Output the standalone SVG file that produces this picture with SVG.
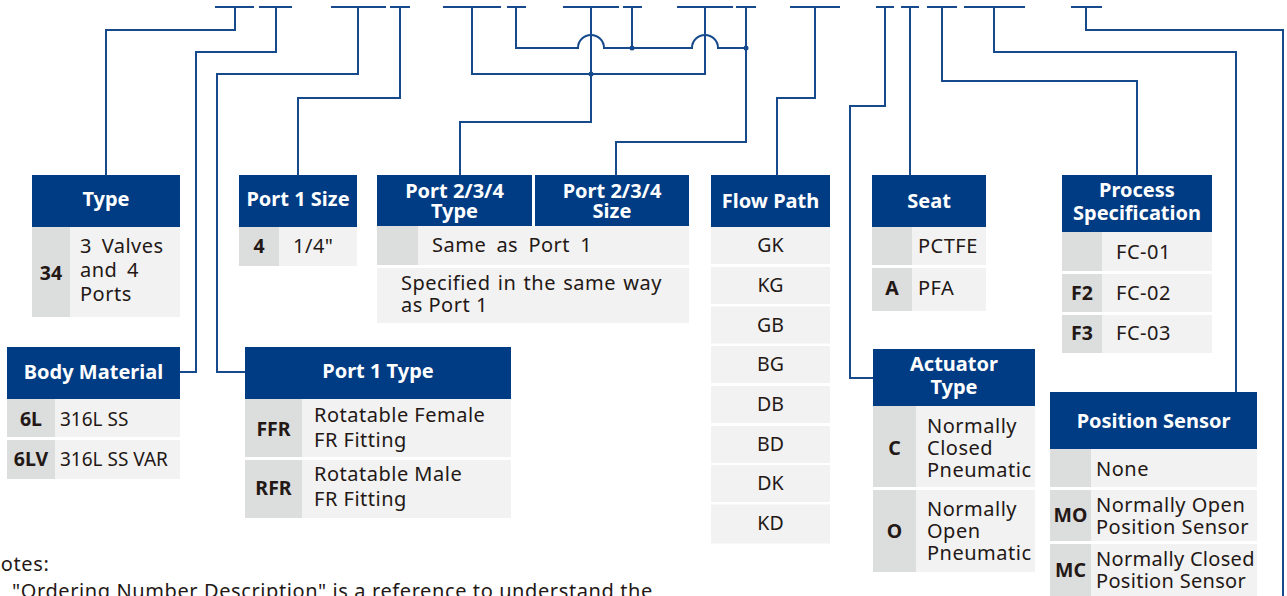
<svg xmlns="http://www.w3.org/2000/svg" width="1287" height="596" viewBox="0 0 1287 596">
<style>
text{font-family:"Noto Sans","Open Sans",sans-serif;}
.hd{fill:#003C84;}
.cd{fill:#DCDDDD;}
.ds{fill:#F2F2F2;}
.ht{fill:#fff;font-weight:bold;font-size:20px;text-anchor:middle;}
.ct{fill:#231815;font-weight:bold;font-size:19.5px;text-anchor:middle;}
.t{fill:#231815;font-size:20px;letter-spacing:0.5px;}
.tm{fill:#231815;font-size:19.5px;text-anchor:middle;}
.ln{fill:none;stroke:#164A8C;stroke-width:2;}
.dot{fill:#164A8C;}
</style>
<g id="connectors">
<path class="ln" d="M215,7H254M259,7H292M331,7H386M390,7H410M443,7H501M507,7H526M563,7H619M623,7H642M677,7H733M736,7H756M790,7H840M876,7H894M901,7H919M927,7H957M964,7H1025M1071,7H1102"/>
<path class="ln" d="M235,7V30H106V175"/>
<path class="ln" d="M276,7V52H196V372H180"/>
<path class="ln" d="M358,7V74H217V372H245"/>
<path class="ln" d="M400,7V98H298V175"/>
<path class="ln" d="M472,7V74H705V7M591,7V122H460V175"/>
<path class="ln" d="M516,7V48H578A13,13 0 0 1 604,48H692A13,13 0 0 1 718,48H746M632,7V48M746,7V142H616V175"/>
<path class="ln" d="M815,7V98H777V175"/>
<path class="ln" d="M885,7V106H850V378H873"/>
<path class="ln" d="M910,7V175"/>
<path class="ln" d="M942,7V81H1137V175"/>
<path class="ln" d="M994,7V52H1236V392"/>
<path class="ln" d="M1086,7V30H1283V596"/>
<circle class="dot" cx="591" cy="74" r="2.5"/>
<circle class="dot" cx="632" cy="48" r="2.5"/>
<circle class="dot" cx="746" cy="48" r="2.5"/>
</g>
<g id="type">
<rect class="hd" x="32" y="175" width="148" height="52"/>
<rect class="cd" x="32" y="227" width="38" height="90"/>
<rect class="ds" x="70" y="227" width="110" height="90"/>
<text class="ht" x="106" y="206">Type</text>
<text class="ct" x="51" y="280">34</text>
<text class="t" x="80" y="253" word-spacing="4">3 Valves</text>
<text class="t" x="80" y="277" word-spacing="4">and 4</text>
<text class="t" x="80" y="301">Ports</text>
</g>
<g id="port1-size">
<rect class="hd" x="239" y="175" width="118" height="52"/>
<rect class="cd" x="239" y="227" width="40" height="39"/>
<rect class="ds" x="279" y="227" width="78" height="39"/>
<text class="ht" x="298" y="206">Port 1 Size</text>
<text class="ct" x="259" y="253">4</text>
<text class="t" x="293" y="253">1/4"</text>
</g>
<g id="port234-type">
<rect class="hd" x="377" y="175" width="155" height="51"/>
<text class="ht" x="454.5" y="198">Port 2/3/4</text>
<text class="ht" x="454.5" y="218">Type</text>
<rect class="cd" x="377" y="226" width="41" height="39"/>
<rect class="ds" x="418" y="226" width="271" height="39"/>
<text class="t" x="432" y="252" word-spacing="4.5">Same as Port 1</text>
<rect class="ds" x="377" y="268" width="312" height="55"/>
<text class="t" x="401" y="290" word-spacing="1.6">Specified in the same way</text>
<text class="t" x="401" y="312">as Port 1</text>
</g>
<g id="port234-size">
<rect class="hd" x="535" y="175" width="154" height="51"/>
<text class="ht" x="612" y="198">Port 2/3/4</text>
<text class="ht" x="612" y="218">Size</text>
</g>
<g id="flow-path">
<rect class="hd" x="711" y="175" width="119" height="52"/>
<text class="ht" x="770.5" y="208">Flow Path</text>
<rect class="ds" x="711" y="227" width="119" height="37"/>
<rect class="ds" x="711" y="267" width="119" height="37"/>
<rect class="ds" x="711" y="306.5" width="119" height="37"/>
<rect class="ds" x="711" y="346" width="119" height="37"/>
<rect class="ds" x="711" y="386" width="119" height="37"/>
<rect class="ds" x="711" y="426" width="119" height="37"/>
<rect class="ds" x="711" y="465" width="119" height="37"/>
<rect class="ds" x="711" y="504.5" width="119" height="39"/>
<text class="tm" x="770.5" y="252">GK</text>
<text class="tm" x="770.5" y="292">KG</text>
<text class="tm" x="770.5" y="331.5">GB</text>
<text class="tm" x="770.5" y="371">BG</text>
<text class="tm" x="770.5" y="411">DB</text>
<text class="tm" x="770.5" y="451">BD</text>
<text class="tm" x="770.5" y="490">DK</text>
<text class="tm" x="770.5" y="530">KD</text>
</g>
<g id="seat">
<rect class="hd" x="872" y="175" width="114" height="52"/>
<text class="ht" x="929" y="208">Seat</text>
<rect class="cd" x="872" y="227" width="40" height="38"/>
<rect class="ds" x="912" y="227" width="74" height="38"/>
<rect class="cd" x="872" y="268" width="40" height="43"/>
<rect class="ds" x="912" y="268" width="74" height="43"/>
<text class="t" x="918" y="253">PCTFE</text>
<text class="ct" x="892" y="295">A</text>
<text class="t" x="918" y="295">PFA</text>
</g>
<g id="process-spec">
<rect class="hd" x="1062" y="175" width="150" height="57"/>
<text class="ht" x="1137" y="197">Process</text>
<text class="ht" x="1137" y="220">Specification</text>
<rect class="cd" x="1062" y="232" width="40" height="39"/>
<rect class="ds" x="1102" y="232" width="110" height="39"/>
<rect class="cd" x="1062" y="274" width="40" height="38"/>
<rect class="ds" x="1102" y="274" width="110" height="38"/>
<rect class="cd" x="1062" y="315" width="40" height="38"/>
<rect class="ds" x="1102" y="315" width="110" height="38"/>
<text class="t" x="1116" y="259">FC-01</text>
<text class="ct" x="1082" y="300">F2</text>
<text class="t" x="1116" y="300">FC-02</text>
<text class="ct" x="1082" y="340">F3</text>
<text class="t" x="1116" y="340">FC-03</text>
</g>
<g id="body-material">
<rect class="hd" x="7" y="347" width="173" height="52"/>
<text class="ht" x="93.5" y="379">Body Material</text>
<rect class="cd" x="7" y="399" width="48" height="38"/>
<rect class="ds" x="55" y="399" width="125" height="38"/>
<rect class="cd" x="7" y="440" width="48" height="39"/>
<rect class="ds" x="55" y="440" width="125" height="39"/>
<text class="ct" x="31" y="426">6L</text>
<text class="t" x="60" y="426" style="letter-spacing:0;font-size:19px">316L SS</text>
<text class="ct" x="31" y="466">6LV</text>
<text class="t" x="60" y="466" style="letter-spacing:0;font-size:19px">316L SS VAR</text>
</g>
<g id="port1-type">
<rect class="hd" x="245" y="347" width="266" height="52"/>
<text class="ht" x="378" y="378">Port 1 Type</text>
<rect class="cd" x="245" y="399" width="57" height="58"/>
<rect class="ds" x="302" y="399" width="209" height="58"/>
<rect class="cd" x="245" y="460" width="57" height="58"/>
<rect class="ds" x="302" y="460" width="209" height="58"/>
<text class="ct" x="273.5" y="436">FFR</text>
<text class="t" x="314" y="422">Rotatable Female</text>
<text class="t" x="314" y="447">FR Fitting</text>
<text class="ct" x="273.5" y="495">RFR</text>
<text class="t" x="314" y="481">Rotatable Male</text>
<text class="t" x="314" y="506">FR Fitting</text>
</g>
<g id="actuator-type">
<rect class="hd" x="873" y="349" width="162" height="57"/>
<text class="ht" x="954" y="371">Actuator</text>
<text class="ht" x="954" y="394">Type</text>
<rect class="cd" x="873" y="406" width="43" height="81"/>
<rect class="ds" x="916" y="406" width="119" height="81"/>
<rect class="cd" x="873" y="490" width="43" height="82"/>
<rect class="ds" x="916" y="490" width="119" height="82"/>
<text class="ct" x="894.5" y="455">C</text>
<text class="t" x="927" y="433">Normally</text>
<text class="t" x="927" y="455">Closed</text>
<text class="t" x="927" y="477">Pneumatic</text>
<text class="ct" x="894.5" y="538">O</text>
<text class="t" x="927" y="516">Normally</text>
<text class="t" x="927" y="538">Open</text>
<text class="t" x="927" y="560">Pneumatic</text>
</g>
<g id="position-sensor">
<rect class="hd" x="1050" y="392" width="207" height="57"/>
<text class="ht" x="1153.5" y="428">Position Sensor</text>
<rect class="cd" x="1050" y="449" width="41" height="38"/>
<rect class="ds" x="1091" y="449" width="166" height="38"/>
<rect class="cd" x="1050" y="490" width="41" height="51"/>
<rect class="ds" x="1091" y="490" width="166" height="51"/>
<rect class="cd" x="1050" y="544" width="41" height="52"/>
<rect class="ds" x="1091" y="544" width="166" height="52"/>
<text class="t" x="1096" y="476">None</text>
<text class="ct" x="1070.5" y="522">MO</text>
<text class="t" x="1096" y="512">Normally Open</text>
<text class="t" x="1096" y="534">Position Sensor</text>
<text class="ct" x="1070.5" y="577">MC</text>
<text class="t" x="1096" y="566" style="letter-spacing:0.3px">Normally Closed</text>
<text class="t" x="1096" y="588" style="letter-spacing:0.3px">Position Sensor</text>
</g>
<g id="notes">
<text class="t" x="-15" y="571" style="letter-spacing:0.6px">Notes:</text>
<text class="t" x="12" y="598" style="letter-spacing:0.6px">"Ordering Number Description" is a reference to understand the</text>
</g>
</svg>
